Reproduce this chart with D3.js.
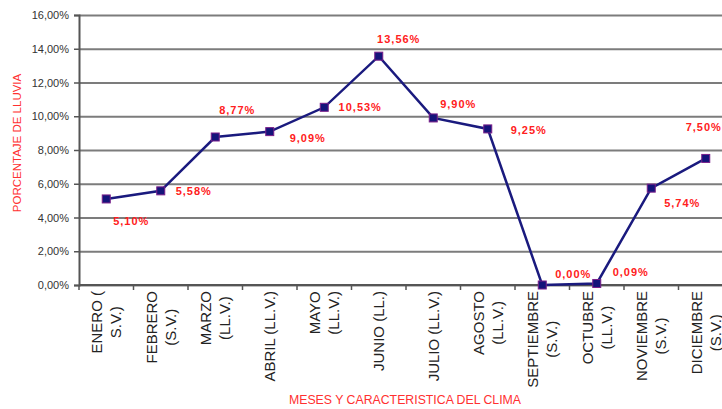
<!DOCTYPE html>
<html>
  <head>
    <meta charset="utf-8">
    <title>Porcentaje de lluvia</title>
    <script src="https://d3js.org/d3.v7.min.js"></script>
  </head>
  <style>
    body {
      margin: 0;
      background-color: #fff;
      font-family: 'Liberation Sans', Arial, Helvetica, sans-serif;
    }
    svg { display: block; }
  </style>
  <body>
    <svg></svg>
    <script>

      // months and climate type (lines split with "\n")
      var months = [
        "ENERO (\nS.V.)", "FEBRERO\n(S.V.)", "MARZO\n(LL.V.)", "ABRIL (LL.V.)",
        "MAYO\n(LL.V.)", "JUNIO (LL.)", "JULIO (LL.V.)", "AGOSTO\n(LL.V.)",
        "SEPTIEMBRE\n(S.V.)", "OCTUBRE\n(LL.V.)", "NOVIEMBRE\n(S.V.)", "DICIEMBRE\n(S.V.)"
      ];
      var rainPct = [5.10, 5.58, 8.77, 9.09, 10.53, 13.56, 9.90, 9.25, 0.00, 0.09, 5.74, 7.50];
      var yTicks = [0, 2, 4, 6, 8, 10, 12, 14, 16];

      // where each value label sits relative to its point (centre offset)
      var labelOffsets = [
        [25, 22], [33, 0], [22, -27], [38, 7], [36, 0], [20, -17],
        [25, -14], [41, 1], [31, -11], [34, -11], [31, 15], [-2, -31]
      ];

      var width = 722;
      var height = 409;
      var plotLeft = 79, plotTop = 15, plotBottom = 285, plotRight = 733;

      var svg = d3.select('svg')
        .attr('width', width)
        .attr('height', height);

      var x = d3.scaleBand()
        .domain(d3.range(months.length))
        .range([plotLeft, plotRight]);

      var y = d3.scaleLinear()
        .domain([0, 16])
        .range([plotBottom, plotTop]);

      var fmt = function (d) { return d.toFixed(2).replace('.', ',') + '%'; };

      // gridlines
      svg.append('g')
        .attr('transform', 'translate(' + plotLeft + ',0)')
        .call(d3.axisLeft(y).tickValues(yTicks).tickSize(-(plotRight - plotLeft)).tickFormat(''))
        .call(function (g) {
          g.select('.domain').remove();
          g.selectAll('line').attr('stroke', '#7c7c7c').attr('stroke-width', 1.8);
        });

      // y axis
      svg.append('g')
        .attr('transform', 'translate(' + plotLeft + ',0)')
        .call(d3.axisLeft(y).tickValues(yTicks).tickSize(5).tickPadding(5).tickFormat(fmt))
        .call(function (g) {
          g.select('.domain').attr('stroke', '#555').attr('stroke-width', 2);
          g.selectAll('line').attr('stroke', '#555').attr('stroke-width', 1.5);
          g.selectAll('text')
            .attr('fill', '#333')
            .style('font-size', '11px')
            .style('font-family', "'Liberation Sans', Arial, sans-serif");
        });

      // x axis line and boundary ticks
      svg.append('line')
        .attr('x1', plotLeft).attr('x2', plotRight)
        .attr('y1', plotBottom).attr('y2', plotBottom)
        .attr('stroke', '#555').attr('stroke-width', 2);

      svg.append('g')
        .selectAll('line')
        .data(d3.range(months.length + 1))
        .enter().append('line')
        .attr('x1', function (i) { return i < months.length ? x(i) : plotRight; })
        .attr('x2', function (i) { return i < months.length ? x(i) : plotRight; })
        .attr('y1', plotBottom).attr('y2', plotBottom + 5)
        .attr('stroke', '#555').attr('stroke-width', 1.5);

      // rotated, multi-line month labels
      var lineGap = 19;
      months.forEach(function (m, i) {
        var lines = m.split('\n');
        var cx = x(i) + x.bandwidth() / 2;
        var g = svg.append('g')
          .attr('transform', 'translate(' + cx + ',' + (plotBottom + 6) + ')rotate(-90)');
        var texts = lines.map(function (t, j) {
          return g.append('text')
            .attr('y', (j - (lines.length - 1) / 2) * lineGap)
            .attr('dy', '0.35em')
            .attr('text-anchor', 'middle')
            .attr('fill', '#222')
            .style('font-size', '15px')
            .text(t);
        });
        var maxLen = d3.max(texts, function (t) { return t.node().getComputedTextLength(); });
        texts.forEach(function (t) { t.attr('x', -maxLen / 2); });
      });

      // line
      var line = d3.line()
        .x(function (d, i) { return x(i) + x.bandwidth() / 2; })
        .y(function (d) { return y(d); });

      svg.append('path')
        .datum(rainPct)
        .attr('d', line)
        .attr('fill', 'none')
        .attr('stroke', '#1a1a7e')
        .attr('stroke-width', 2.5);

      // square markers
      svg.append('g')
        .selectAll('rect')
        .data(rainPct)
        .enter().append('rect')
        .attr('x', function (d, i) { return x(i) + x.bandwidth() / 2 - 4; })
        .attr('y', function (d) { return y(d) - 4; })
        .attr('width', 8).attr('height', 8)
        .attr('fill', '#14147a')
        .attr('stroke', '#7a1f8a')
        .attr('stroke-width', 1);

      // value labels
      svg.append('g')
        .selectAll('text')
        .data(rainPct)
        .enter().append('text')
        .attr('x', function (d, i) { return x(i) + x.bandwidth() / 2 + labelOffsets[i][0]; })
        .attr('y', function (d, i) { return y(d) + labelOffsets[i][1]; })
        .attr('dy', '0.35em')
        .attr('text-anchor', 'middle')
        .attr('fill', '#ff2020')
        .style('font-size', '11px')
        .style('font-weight', 'bold')
        .style('letter-spacing', '1px')
        .text(fmt);

      // axis titles
      svg.append('text')
        .attr('transform', 'translate(17,143)rotate(-90)')
        .attr('dy', '0.35em')
        .attr('text-anchor', 'middle')
        .attr('fill', '#ff3030')
        .style('font-size', '11.5px')
        .text('PORCENTAJE DE LLUVIA');

      svg.append('text')
        .attr('x', 405)
        .attr('y', 400)
        .attr('dy', '0.35em')
        .attr('text-anchor', 'middle')
        .attr('fill', '#ff3030')
        .style('font-size', '12.3px')
        .text('MESES Y CARACTERISTICA DEL CLIMA');

    </script>
  </body>
</html>
